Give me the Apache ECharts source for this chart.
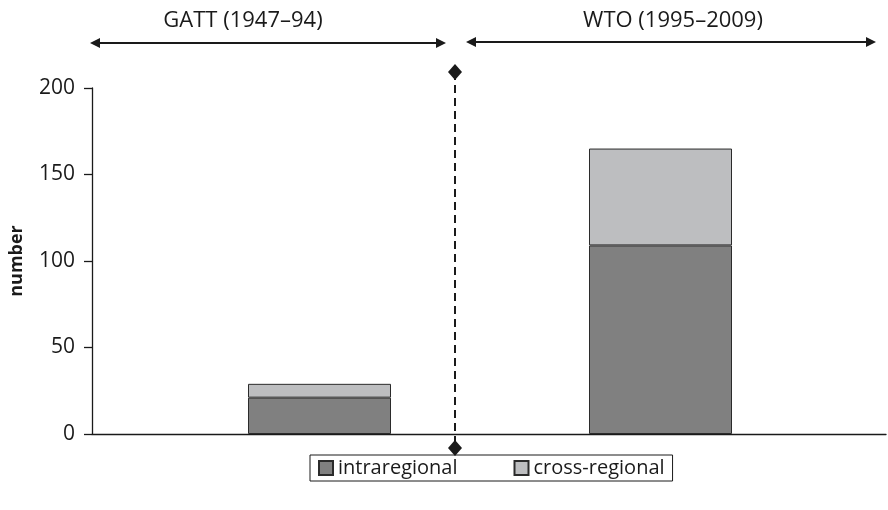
<!DOCTYPE html>
<html><head><meta charset="utf-8">
<script src="https://cdn.jsdelivr.net/npm/echarts@6/dist/echarts.min.js"></script>
<style>html,body{margin:0;padding:0;background:#fff}#c{width:888px;height:510px}</style>
</head><body><div id="c"></div>
<script>
const categories = ["GATT", "WTO"];
const intraregional = [21, 109];
const crossRegional = [8, 56];
const yTicks = [0, 50, 100, 150, 200];
const periodLabels = ["GATT (1947\u201394)", "WTO (1995\u20132009)"];

const FONT = "'Open Sans', 'Noto Sans', sans-serif";
const chart = echarts.init(document.getElementById('c'), null, {renderer: 'canvas'});
const yMin = yTicks[0], yMax = yTicks[yTicks.length - 1], yInt = yTicks[1] - yTicks[0];
const barStyle = (c) => ({color: c, borderColor: '#2b2b2b', borderWidth: 1});

chart.setOption({
  animation: false,
  textStyle: {fontFamily: FONT},
  grid: [
    {left: 92, right: 2, top: 88, bottom: 76},
    {left: 149, right: 57, top: 88, bottom: 76}
  ],
  xAxis: [
    {gridIndex: 0, type: 'value', min: 0, max: 1, axisLine: {show: true, onZero: false, lineStyle: {color: '#1a1a1a', width: 1.3}},
     axisTick: {show: false}, axisLabel: {show: false}, splitLine: {show: false}},
    {gridIndex: 1, type: 'category', data: categories, show: false}
  ],
  yAxis: [
    {gridIndex: 0, type: 'value', min: yMin, max: yMax, interval: yInt,
     name: 'number', nameLocation: 'middle', nameGap: 66, nameRotate: 90,
     nameTextStyle: {fontFamily: FONT, fontWeight: 'bold', fontSize: 18, color: '#1a1a1a'},
     axisLine: {show: true, lineStyle: {color: '#1a1a1a', width: 1.3}},
     axisTick: {show: true, inside: false, length: 8, lineStyle: {color: '#1a1a1a', width: 1.3}},
     axisLabel: {fontFamily: FONT, fontSize: 21, color: '#1a1a1a', margin: 17},
     splitLine: {show: false}},
    {gridIndex: 1, type: 'value', min: yMin, max: yMax, interval: yInt, show: false}
  ],
  legend: {
    bottom: 29, left: 310,
    data: ['intraregional', 'cross-regional'],
    itemWidth: 14, itemHeight: 14, itemGap: 56,
    icon: 'rect',
    borderColor: '#1a1a1a', borderWidth: 1, borderRadius: 0, padding: [3, 8, 3, 8],
    textStyle: {fontFamily: FONT, fontSize: 20, color: '#1a1a1a'}
  },
  series: [
    {name: 'intraregional', type: 'bar', xAxisIndex: 1, yAxisIndex: 1, stack: 't', data: intraregional,
     barWidth: 143, itemStyle: barStyle('#808080')},
    {name: 'cross-regional', type: 'bar', xAxisIndex: 1, yAxisIndex: 1, stack: 't', data: crossRegional,
     barWidth: 143, itemStyle: barStyle('#bdbec0')}
  ],
  graphic: [
    {type: 'line', shape: {x1: 455, y1: 72, x2: 455, y2: 448}, style: {stroke: '#1a1a1a', lineWidth: 2, lineDash: [8, 5]}},
    {type: 'polygon', shape: {points: [[455, 64], [462, 72], [455, 80], [448, 72]]}, style: {fill: '#1a1a1a'}},
    {type: 'polygon', shape: {points: [[455, 440], [462, 448], [455, 456], [448, 448]]}, style: {fill: '#1a1a1a'}},
    {type: 'line', shape: {x1: 94, y1: 43, x2: 442, y2: 43}, style: {stroke: '#1a1a1a', lineWidth: 2}},
    {type: 'polygon', shape: {points: [[90, 43], [100, 38], [100, 48]]}, style: {fill: '#1a1a1a'}},
    {type: 'polygon', shape: {points: [[446, 43], [436, 38], [436, 48]]}, style: {fill: '#1a1a1a'}},
    {type: 'line', shape: {x1: 470, y1: 42, x2: 872, y2: 42}, style: {stroke: '#1a1a1a', lineWidth: 2}},
    {type: 'polygon', shape: {points: [[466, 42], [476, 37], [476, 47]]}, style: {fill: '#1a1a1a'}},
    {type: 'polygon', shape: {points: [[876, 42], [866, 37], [866, 47]]}, style: {fill: '#1a1a1a'}},
    {type: 'text', x: 243, y: 21, style: {text: periodLabels[0], font: '22px ' + FONT, fill: '#1a1a1a', textAlign: 'center', textVerticalAlign: 'middle'}},
    {type: 'text', x: 673, y: 21, style: {text: periodLabels[1], font: '22px ' + FONT, fill: '#1a1a1a', textAlign: 'center', textVerticalAlign: 'middle'}}
  ]
});
</script></body></html>
